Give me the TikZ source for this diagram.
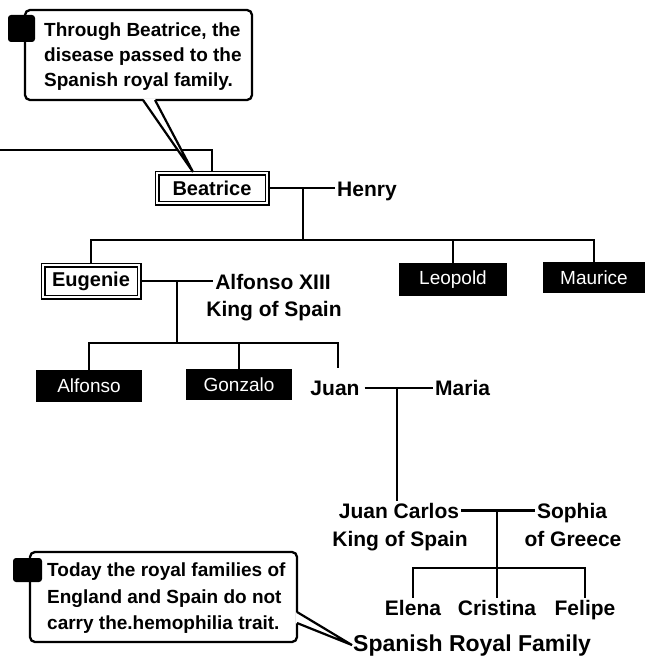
\documentclass[tikz,border=0pt]{standalone}
\usepackage{fontspec}
\setmainfont{Liberation Sans}
\begin{document}
\begin{tikzpicture}[x=1pt,y=-1pt,
  conn/.style={line width=2.6pt},
  nm/.style={font=\fontsize{21}{25}\selectfont\bfseries, inner sep=2pt},
  wbox/.style={draw, line width=1.7pt, double=white, double distance=1.6pt, font=\fontsize{20}{24}\selectfont\bfseries, inner sep=0pt},
  bbox/.style={fill=black, text=white, font=\fontsize{19}{22}\selectfont, inner sep=0pt},
  callbox/.style={draw, line width=2.3pt, rounded corners=5pt, fill=white, inner sep=0pt},
  calltext/.style={align=left, font=\fontsize{19}{25}\selectfont\bfseries, inner sep=0pt, anchor=north west},
  marker/.style={fill=black, rounded corners=3pt, inner sep=0pt},
  ptr/.style={line width=2.2pt, line join=miter},
]
\useasboundingbox (0,0) rectangle (647,658);

% ---- callout 1
\node[callbox, minimum width=227pt, minimum height=90pt] (call1) at (138.5,55) {};
\node[calltext] (call1txt) at (44,23) {Through Beatrice, the\\disease passed to the\\Spanish royal family.};
\node[marker, minimum width=27pt, minimum height=27pt] (mark1) at (21.5,28.5) {};

% ---- Beatrice generation
\node[wbox, minimum width=110pt, minimum height=30pt] (beatrice) at (212,188) {Beatrice};
\node[nm, anchor=base west] (henry) at (335,196) {Henry};
\coordinate (lft) at (0,150);
\draw[conn] (lft) -| (beatrice.north);
\draw[conn] (beatrice.east) -- (beatrice.east -| henry.west);
\coordinate (jB) at (303,188);
\coordinate (bar1) at (303,240);
\draw[conn] (jB) -- (bar1);

% pointer 1
\coordinate (p1a) at (143,100);
\coordinate (p1b) at (155,100);
\coordinate (p1tip) at (193,172);
\fill[white] ([yshift=1.5pt]p1a) -- (p1tip) -- ([yshift=1.5pt]p1b) -- cycle;
\draw[ptr] (p1a) -- (p1tip) -- (p1b);

% ---- children of Beatrice
\node[wbox, minimum width=96pt, minimum height=32pt] (eugenie) at (91,281) {Eugenie};
\node[bbox, minimum width=108pt, minimum height=33pt] (leopold) at (453,279.5) {Leopold};
\node[bbox, minimum width=102pt, minimum height=31pt] (maurice) at (594,277.5) {Maurice};
\draw[conn] (eugenie.north) |- (bar1) -| (maurice.north);
\draw[conn] (leopold.north) -- (leopold.north |- bar1);

\node[nm, anchor=base] (alf13) at (273,289) {Alfonso XIII};
\node[nm, anchor=base] (kingA) at (274,316) {King of Spain};
\draw[conn] (eugenie.east) -- (eugenie.east -| alf13.west);
\coordinate (jA) at (177,281);
\coordinate (bar2) at (177,343);
\draw[conn] (jA) -- (bar2);

% ---- children of Eugenie
\node[bbox, minimum width=106pt, minimum height=32pt] (alfonso) at (89,386) {Alfonso};
\node[bbox, minimum width=106pt, minimum height=31pt] (gonzalo) at (239,384.5) {Gonzalo};
\node[nm, anchor=base, inner xsep=5pt] (juan) at (335,395) {Juan};
\coordinate (juanstub) at (338,368);
\draw[conn] (alfonso.north) |- (bar2) -| (juanstub);
\draw[conn] (gonzalo.north) -- (gonzalo.north |- bar2);

\node[nm, anchor=base west] (maria) at (433,395) {Maria};
\draw[conn] (juan.east) -- (juan.east -| maria.west);
\coordinate (jJ) at (397,387);

% ---- Juan Carlos
\node[nm, anchor=base] (jc) at (399,518) {Juan Carlos};
\node[nm, anchor=base] (kingB) at (400,546) {King of Spain};
\draw[conn] (jJ) -- (jJ |- jc.north);
\node[nm, anchor=base] (soph) at (572,518) {Sophia};
\node[nm, anchor=base] (greece) at (573,546) {of Greece};
\draw[conn] (jc.east) -- (jc.east -| soph.west);
\coordinate (jS) at (497,510);
\coordinate (bar3) at (497,568);
\draw[conn] (jS) -- (bar3);

\node[nm, anchor=base] (elena) at (413,615) {Elena};
\node[nm, anchor=base] (cristina) at (497,615) {Cristina};
\node[nm, anchor=base] (felipe) at (585,615) {Felipe};
\draw[conn] (elena.north) |- (bar3) -| (felipe.north);
\draw[conn] (cristina.north) -- (cristina.north |- bar3);

\node[font=\fontsize{23}{27}\selectfont\bfseries, inner sep=1pt, anchor=base west] (srf) at (352,651) {Spanish Royal Family};

% ---- callout 2
\node[callbox, minimum width=267pt, minimum height=90pt] (call2) at (163.5,597) {};
\node[calltext, font=\fontsize{19}{26.5}\selectfont\bfseries] (call2txt) at (47,563) {Today the royal families of\\England and Spain do not\\carry the.hemophilia trait.};
\node[marker, minimum width=29pt, minimum height=24pt] (mark2) at (27.5,570) {};
\coordinate (p2a) at (297,612);
\coordinate (p2b) at (297,623);
\fill[white] ([xshift=-1.5pt]p2a) -- (srf.west) -- ([xshift=-1.5pt]p2b) -- cycle;
\draw[ptr] (p2a) -- (srf.west) -- (p2b);
\end{tikzpicture}
\end{document}
